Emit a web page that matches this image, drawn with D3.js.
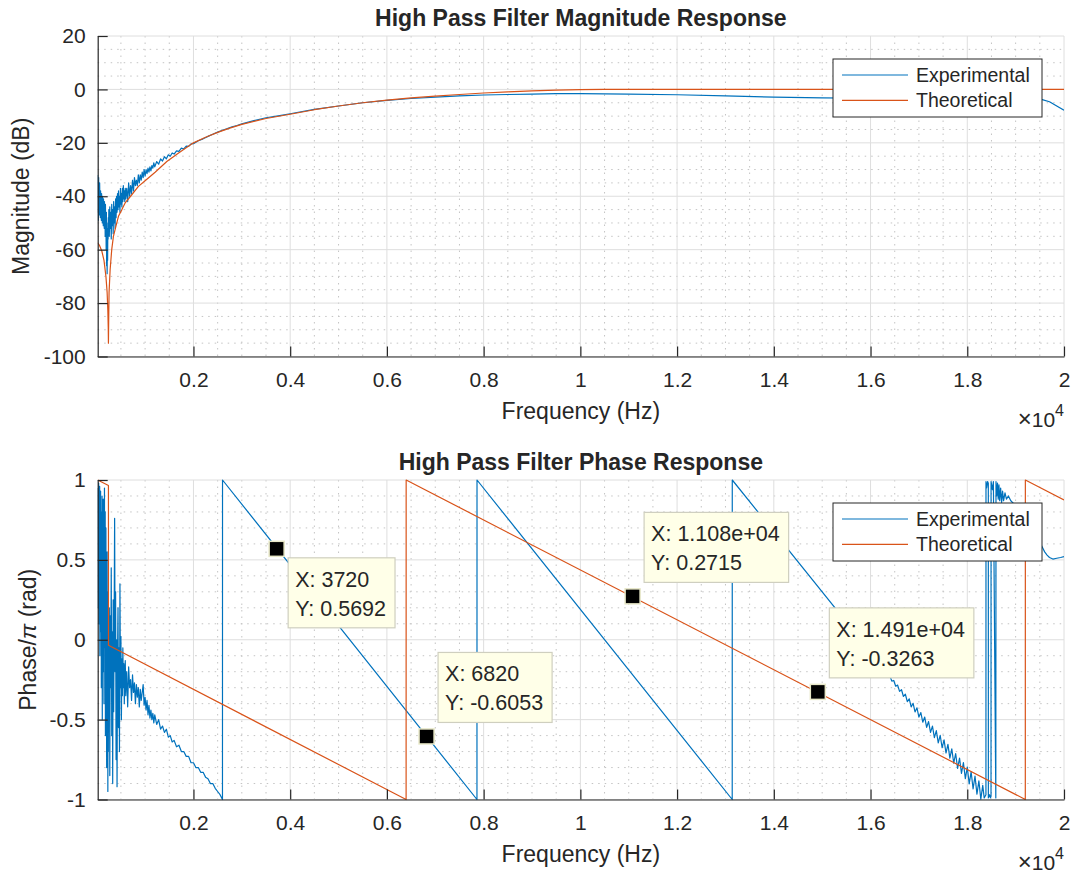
<!DOCTYPE html>
<html>
<head>
<meta charset="utf-8">
<script src="https://cdn.jsdelivr.net/npm/d3@7"></script>
<style>
body { margin: 0; background: #fff; }
text { font-family: "Liberation Sans", Arial, Helvetica, sans-serif; fill: #262626; }
</style>
</head>
<body>
<svg id="fig" width="1071" height="873"></svg>
<script>
// ---- data ----
var seriesNames = ["Experimental", "Theoretical"];

var xTickVals = [2000, 4000, 6000, 8000, 10000, 12000, 14000, 16000, 18000, 20000];
var xTickLabels = ["0.2", "0.4", "0.6", "0.8", "1", "1.2", "1.4", "1.6", "1.8", "2"];
var magTicks = [20, 0, -20, -40, -60, -80, -100];
var magTickLabels = ["20", "0", "-20", "-40", "-60", "-80", "-100"];
var phaseTicks = [1, 0.5, 0, -0.5, -1];
var phaseTickLabels = ["1", "0.5", "0", "-0.5", "-1"];

// experimental magnitude (Hz, dB)
var expMagHz = [
  20,25,30,35,40,45,50,55,60,65,
  70,75,80,85,90,95,100,105,110,115,
  120,125,130,135,140,145,150,155,160,165,
  170,175,180,185,190,195,200,205,210,215,
  220,225,230,235,240,245,250,260,270,280,
  290,300,310,320,330,340,350,360,370,380,
  390,400,410,420,430,440,450,460,470,480,
  490,500,510,520,530,540,550,560,570,580,
  590,600,620,640,660,680,700,720,740,760,
  780,800,820,840,860,880,900,920,940,960,
  980,1000,1020,1040,1060,1080,1100,1120,1140,1160,
  1180,1200,1240,1280,1320,1360,1400,1440,1480,1520,
  1560,1600,1650,1700,1750,1800,1850,1900,1950,2000,
  2100,2200,2300,2400,2500,2600,2700,2800,2900,3000,
  3250,3500,3750,4000,4500,5000,5500,6000,6500,7000,
  7500,8000,8500,9000,9500,10000,10500,11000,12000,13000,
  14000,15000,16000,17000,18000,19000,19550,19700,19850,20000];
var expMagDb = [
  -32,-46,-36,-49,-33,-44,-38,-47,-35,-42,
  -40,-48,-38,-44,-41,-49,-39,-45,-42,-50,
  -40,-46,-43,-51,-41,-47,-44,-52,-42,-49,
  -45,-55,-43,-50,-47,-60,-46,-66,-52,-69,
  -58,-64,-50,-56,-48,-53,-45,-55,-44,-52,
  -46,-56,-43,-51,-45,-54,-42,-50,-44,-52,
  -41,-48,-40,-46,-39,-45,-38,-44,-40,-46,
  -37,-43,-39,-44,-37,-42,-36,-41,-38,-42,
  -37,-41,-37,-42,-35,-40,-36,-39,-34,-38,
  -33,-36,-34,-36,-32,-35,-32,-34,-31,-33,
  -30,-32.5,-30,-31.5,-29.5,-31,-29,-30.5,-28.5,-29.5,
  -27.5,-29,-27,-28,-26,-26.8,-25.2,-26,-24.5,-25,
  -23.8,-24.2,-23,-23.2,-22,-22.3,-21.2,-21.3,-20.4,-20.3,
  -19.2,-18.5,-17.6,-16.8,-16.0,-15.3,-14.7,-14.0,-13.5,-12.9,
  -11.7,-10.6,-9.9,-9.1,-7.5,-6.2,-5.0,-4.1,-3.4,-2.9,
  -2.4,-2.1,-1.9,-1.75,-1.6,-1.6,-1.7,-1.8,-2.0,-2.4,
  -2.9,-3.2,-3.3,-3.4,-3.5,-3.6,-3.8,-4.6,-6.2,-7.8];

// theoretical magnitude (Hz, dB)
var thMagHz = [20,60,105,150,190,215,230,238,242,246,
  255,277,310,345,400,449,520,587,700,862,
  1000,1207,1449,1700,2000,2250,2500,2750,3000,3500,
  4000,4500,5000,5500,6000,6500,7000,7500,8000,8500,
  9000,9500,10000,10500,20000];
var thMagDb = [-57.4,-58.5,-60.5,-64,-70,-76,-83,-89,-95,-88,
  -76,-67.5,-60,-55,-51,-47.5,-45,-42.5,-40,-36.3,
  -34.2,-31,-27,-23.7,-20,-17.9,-16.1,-14.5,-13.1,-10.9,
  -9.3,-7.6,-6.2,-5.0,-4.0,-3.2,-2.5,-1.9,-1.35,-0.9,
  -0.55,-0.3,-0.1,0,0];

// experimental phase (Hz, phase/pi)
var expPhHz = [
  20,25,30,35,40,45,50,55,60,65,
  70,75,80,85,90,95,100,105,110,115,
  120,125,130,135,140,145,150,155,160,165,
  170,175,180,185,190,195,200,205,210,215,
  220,225,230,235,240,245,250,260,270,280,
  290,300,310,320,330,340,350,360,370,380,
  390,400,410,420,430,440,450,460,470,480,
  490,500,510,520,530,540,550,560,570,580,
  590,600,620,640,660,680,700,720,740,760,
  780,800,820,840,860,880,900,920,940,960,
  980,1000,1020,1040,1060,1080,1100,1120,1140,1160,
  1180,1200,1240,1280,1320,1360,1400,1440,1480,1520,
  1560,1600,1650,1700,1750,1800,1850,1900,1950,2000,
  2050,2100,2150,2200,2250,2300,2350,2400,2450,2500,
  2550,2600,2601,7862,7863,13140,13141,16400,16440,16480,
  16520,16560,16600,16640,16680,16720,16760,16800,16840,16880,
  16920,16960,17000,17040,17080,17120,17160,17200,17240,17280,
  17320,17360,17400,17440,17480,17520,17560,17600,17640,17680,
  17720,17760,17800,17840,17880,17920,17960,18000,18040,18080,
  18120,18160,18200,18240,18280,18320,18350,18386,18387,18400,
  18420,18435,18436,18460,18480,18491,18492,18520,18540,18590,
  18594,18610,18625,18640,18655,18670,18690,18710,18730,18750,
  18780,18810,18850,18900,19000,19100,19200,19300,19400,19500,
  19550,19600,19650,19700,19770,19850,19930,20000];
var expPh = [
  0.95,0.2,0.9,0.55,0.98,0.1,0.85,0.4,0.96,-0.1,
  0.7,0.3,0.93,0.05,0.8,-0.3,0.6,0.15,0.9,-0.5,
  0.45,0.75,-0.2,0.88,0.1,0.65,-0.4,0.5,0.95,-0.05,
  0.35,0.8,-0.6,0.2,0.7,-0.35,0.4,-0.8,0.25,0.55,
  -0.5,0.1,-0.95,0.3,-0.7,0.05,-0.4,0.2,-0.85,0.15,
  -0.3,0.45,-0.6,0.05,-0.9,0.25,-0.45,0.1,0.76,-0.2,
  0.3,-0.75,0.0,-0.92,-0.1,0.2,-0.55,-0.05,-0.7,0.35,
  -0.3,0.02,-0.5,-0.12,-0.35,-0.05,-0.3,-0.15,-0.4,-0.2,
  -0.13,-0.35,-0.2,-0.42,-0.17,-0.3,-0.25,-0.38,-0.22,-0.33,
  -0.27,-0.4,-0.28,-0.36,-0.3,-0.42,-0.31,-0.38,-0.33,-0.28,
  -0.41,-0.36,-0.44,-0.38,-0.47,-0.41,-0.49,-0.44,-0.5,-0.46,
  -0.52,-0.47,-0.53,-0.5,-0.56,-0.54,-0.58,-0.56,-0.61,-0.6,
  -0.64,-0.63,-0.67,-0.66,-0.7,-0.7,-0.73,-0.73,-0.77,-0.77,
  -0.8,-0.8,-0.83,-0.83,-0.86,-0.87,-0.9,-0.9,-0.93,-0.95,
  -0.97,-1,1,-1,1,-1,1,-0.227,-0.259,-0.255,
  -0.291,-0.284,-0.323,-0.313,-0.355,-0.341,-0.387,-0.370,-0.420,-0.398,
  -0.452,-0.426,-0.484,-0.456,-0.516,-0.484,-0.548,-0.512,-0.580,-0.541,
  -0.613,-0.569,-0.645,-0.598,-0.676,-0.627,-0.709,-0.655,-0.741,-0.683,
  -0.773,-0.712,-0.806,-0.741,-0.837,-0.769,-0.869,-0.797,-0.902,-0.826,
  -0.934,-0.854,-0.966,-0.883,-0.998,-0.912,-0.99,-0.97,0.99,0.95,
  0.99,0.98,-0.99,-0.97,-0.99,-0.98,0.99,0.94,0.99,-0.99,
  0.99,0.9,0.98,0.88,0.97,0.87,0.95,0.86,0.93,0.87,
  0.92,0.88,0.9,0.87,0.84,0.8,0.76,0.71,0.66,0.61,
  0.58,0.55,0.53,0.515,0.505,0.51,0.515,0.52];

// theoretical phase (Hz, phase/pi) - wrapped straight segments
var thPhHz = [20, 242, 243, 6397, 6398, 19200, 19201, 20000];
var thPh = [1, 0.965, -0.035, -1, 1, -1, 1, 0.875];

// data tips on the phase plot
var tipHz = [3720, 6820, 11080, 14910];
var tipVal = [0.5692, -0.6053, 0.2715, -0.3263];
var tipXText = ["3720", "6820", "1.108e+04", "1.491e+04"];
var tipYText = ["0.5692", "-0.6053", "0.2715", "-0.3263"];

// ---- drawing ----
var colors = ["#0072BD", "#D95319"];
var axLeft = 97.7, axRight = 1064;
var svg = d3.select("#fig");

var x = d3.scaleLinear().domain([20, 20000]).range([axLeft, axRight]);

function zip(a, b) {
  return a.map(function (d, i) { return [d, b[i]]; });
}

function drawPanel(cfg) {
  var y = d3.scaleLinear().domain(cfg.yDomain).range([cfg.bottom, cfg.top]);
  var g = svg.append("g");

  // minor grid (dotted)
  var xMinor = d3.range(500, 20000, 500).filter(function (d) { return d % 2000 !== 0; });
  var yMinor = d3.range(cfg.yDomain[0], cfg.yDomain[1] + 1e-9, cfg.minorStep)
    .filter(function (d) { return cfg.yTicks.every(function (t) { return Math.abs(t - d) > 1e-6; }); });
  g.selectAll(".mx").data(xMinor).enter().append("line")
    .attr("x1", function (d) { return x(d); }).attr("x2", function (d) { return x(d); })
    .attr("y1", cfg.top).attr("y2", cfg.bottom)
    .attr("stroke", "#c4c4c4").attr("stroke-width", 1).attr("stroke-dasharray", "1.5,5");
  g.selectAll(".my").data(yMinor).enter().append("line")
    .attr("x1", axLeft).attr("x2", axRight)
    .attr("y1", function (d) { return y(d); }).attr("y2", function (d) { return y(d); })
    .attr("stroke", "#c4c4c4").attr("stroke-width", 1).attr("stroke-dasharray", "1.5,5");

  // major grid
  g.selectAll(".gx").data(xTickVals).enter().append("line")
    .attr("x1", function (d) { return x(d); }).attr("x2", function (d) { return x(d); })
    .attr("y1", cfg.top).attr("y2", cfg.bottom)
    .attr("stroke", "#dedede").attr("stroke-width", 1);
  g.selectAll(".gy").data(cfg.yTicks).enter().append("line")
    .attr("x1", axLeft).attr("x2", axRight)
    .attr("y1", function (d) { return y(d); }).attr("y2", function (d) { return y(d); })
    .attr("stroke", "#dedede").attr("stroke-width", 1);

  // clipped data lines
  var clipId = "clip" + cfg.id;
  svg.append("clipPath").attr("id", clipId).append("rect")
    .attr("x", axLeft).attr("y", cfg.top - 1)
    .attr("width", axRight - axLeft).attr("height", cfg.bottom - cfg.top + 2);
  var line = d3.line().x(function (d) { return x(d[0]); }).y(function (d) { return y(d[1]); });
  var lines = g.append("g").attr("clip-path", "url(#" + clipId + ")");
  cfg.series.forEach(function (s, i) {
    lines.append("path").datum(s)
      .attr("d", line)
      .attr("fill", "none")
      .attr("stroke", colors[i])
      .attr("stroke-width", 1.2)
      .attr("stroke-linejoin", "round");
  });

  // axes
  var xAxis = d3.axisBottom(x).tickValues(xTickVals)
    .tickFormat(function (d, i) { return xTickLabels[i]; })
    .tickSizeInner(-10).tickSizeOuter(0).tickPadding(16);
  var yAxis = d3.axisLeft(y).tickValues(cfg.yTicks)
    .tickFormat(function (d, i) { return cfg.yTickLabels[i]; })
    .tickSizeInner(-10).tickSizeOuter(0).tickPadding(12);
  var gx = g.append("g").attr("transform", "translate(0," + cfg.bottom + ")").call(xAxis);
  var gy = g.append("g").attr("transform", "translate(" + axLeft + ",0)").call(yAxis);
  [gx, gy].forEach(function (a) {
    a.select(".domain").attr("stroke", "#262626").attr("stroke-width", 1.2);
    a.selectAll(".tick line").attr("stroke", "#262626").attr("stroke-width", 1.2);
    a.selectAll(".tick text").attr("font-size", 21).attr("fill", "#262626")
      .attr("font-family", "'Liberation Sans', Arial, Helvetica, sans-serif");
  });

  // title and labels
  g.append("text").attr("x", (axLeft + axRight) / 2).attr("y", cfg.top - 10)
    .attr("text-anchor", "middle").attr("font-size", 23).attr("font-weight", "bold")
    .attr("fill", "#000").text(cfg.title);
  g.append("text").attr("x", (axLeft + axRight) / 2).attr("y", cfg.bottom + 62)
    .attr("text-anchor", "middle").attr("font-size", 23).text("Frequency (Hz)");
  var exp = g.append("text").attr("x", axRight).attr("y", cfg.bottom + 70)
    .attr("text-anchor", "end").attr("font-size", 21);
  exp.append("tspan").attr("font-size", 24).text("\u00d7");
  exp.append("tspan").text("10");
  exp.append("tspan").attr("dy", -11).attr("font-size", 16).text("4");

  var yl = g.append("text")
    .attr("transform", "translate(" + cfg.ylabelX + "," + ((cfg.top + cfg.bottom) / 2) + ") rotate(-90)")
    .attr("text-anchor", "middle").attr("font-size", 23);
  cfg.ylabel(yl);

  // legend
  var lg = g.append("g").attr("transform", "translate(833," + (cfg.top + 23) + ")");
  lg.append("rect").attr("x", 0).attr("y", 0).attr("width", 209).attr("height", 58)
    .attr("fill", "#fff").attr("stroke", "#262626").attr("stroke-width", 1);
  seriesNames.forEach(function (n, i) {
    var ry = 16 + i * 25.3;
    lg.append("line").attr("x1", 9).attr("x2", 75).attr("y1", ry).attr("y2", ry)
      .attr("stroke", colors[i]).attr("stroke-width", 1.2);
    lg.append("text").attr("x", 83).attr("y", ry + 7).attr("font-size", 19.5)
      .attr("fill", "#000").text(n);
  });

  return y;
}

// top panel: magnitude
drawPanel({
  id: 1, top: 36, bottom: 356.5,
  yDomain: [-100, 20], yTicks: magTicks, yTickLabels: magTickLabels, minorStep: 5,
  title: "High Pass Filter Magnitude Response",
  ylabelX: 29,
  ylabel: function (t) { t.text("Magnitude (dB)"); },
  series: [zip(expMagHz, expMagDb), zip(thMagHz, thMagDb)]
});

// bottom panel: phase
var yPh = drawPanel({
  id: 2, top: 480, bottom: 799.5,
  yDomain: [-1, 1], yTicks: phaseTicks, yTickLabels: phaseTickLabels, minorStep: 0.1,
  title: "High Pass Filter Phase Response",
  ylabelX: 35.5,
  ylabel: function (t) {
    t.append("tspan").text("Phase/");
    t.append("tspan").attr("font-style", "italic").text("\u03c0");
    t.append("tspan").text(" (rad)");
  },
  series: [zip(expPhHz, expPh), zip(thPhHz, thPh)]
});

// data tips
var tipBelow = [true, false, false, false];
var tipLayer = svg.append("g");
tipHz.forEach(function (hz, i) {
  var px = x(hz), py = yPh(tipVal[i]);
  var g = tipLayer.append("g");
  var box = g.append("rect");
  var t1 = g.append("text").attr("font-size", 21.5).attr("fill", "#000").text("X: " + tipXText[i]);
  var t2 = g.append("text").attr("font-size", 21.5).attr("fill", "#000").text("Y: " + tipYText[i]);
  var w = Math.max(t1.node().getComputedTextLength(), t2.node().getComputedTextLength()) + 16;
  var h = 70;
  var bx = px + 11.5;
  var by = tipBelow[i] ? py + 9 : py - 14 - h;
  box.attr("x", bx).attr("y", by).attr("width", w).attr("height", h)
    .attr("fill", "#ffffe8").attr("stroke", "#cfcfbf").attr("stroke-width", 1.2);
  t1.attr("x", bx + 7).attr("y", by + 29);
  t2.attr("x", bx + 7).attr("y", by + 58);
  g.append("rect").attr("x", px - 7.5).attr("y", py - 7.5).attr("width", 15).attr("height", 15)
    .attr("fill", "#000").attr("stroke", "#e8e8c8").attr("stroke-width", 1.5);
});
</script>
</body>
</html>
